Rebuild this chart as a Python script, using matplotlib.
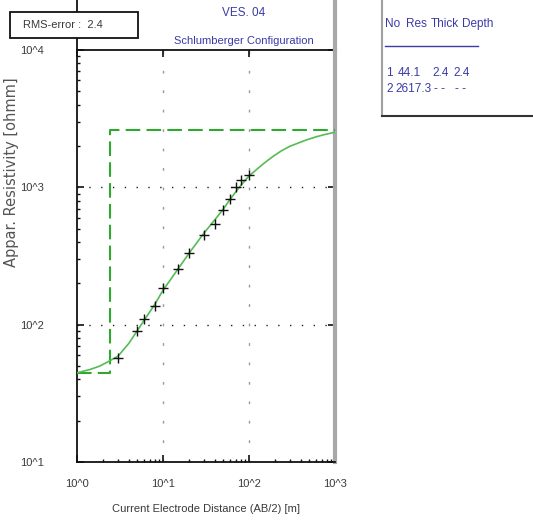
import matplotlib
matplotlib.use("Agg")
import matplotlib.pyplot as plt
from matplotlib.lines import Line2D
from matplotlib.patches import Rectangle

# Sounding VES 04 - field data (AB/2 in m, apparent resistivity in ohm-m)
ab2_obs = [3, 5, 6, 8, 10, 15, 20, 30, 40, 50, 60, 70, 80, 100]
rho_obs = [57.4, 90.5, 110, 137, 184, 254, 330, 452, 540, 679, 822, 1000, 1136, 1225]

# Calculated response of the fitted model
ab2_fit = [1, 1.42, 1.85, 2.37, 3, 4, 5, 6, 8, 10, 15, 20, 30, 40, 50, 60, 70, 80,
           100, 123, 150, 192, 240, 300, 380, 469, 600, 731, 860, 1000]
rho_fit = [44.6, 47.2, 50, 54.3, 59, 73, 90, 107, 140, 178, 255, 330, 465, 580, 690,
           815, 925, 1030, 1210, 1352, 1500, 1687, 1850, 1992, 2110, 2218, 2330,
           2410, 2465, 2520]

# Layered model
layer_no = [1, 2]
layer_res = [44.1, 2617.3]
layer_thick = [2.4]
layer_depth = [2.4]
rms_error = 2.4

W, H = 533, 522
fig = plt.figure(figsize=(W / 100, H / 100), dpi=100)
fig.patch.set_facecolor("white")

NARROW = ["Liberation Sans Narrow", "Liberation Sans", "DejaVu Sans"]
BLUE = "#3a3aa8"
GREY = "#3a3a3a"


def fx(x):
    return x / W


def fy(y):
    return 1 - y / H


ax_l, ax_r, ax_t, ax_b = 77, 335, 50, 462
ax = fig.add_axes([fx(ax_l), fy(ax_b), (ax_r - ax_l) / W, (ax_b - ax_t) / H])
ax.set_xscale("log")
ax.set_yscale("log")
ax.set_xlim(1, 1000)
ax.set_ylim(10, 10000)

# grid
for v in [100, 1000]:
    ax.axhline(v, color="#222222", lw=1.0, ls=(0, (1.0, 7.5)), zorder=1)
for v in [10, 100]:
    ax.axvline(v, color="#9a9a9a", lw=1.0, ls=(0, (2.0, 12.0)), zorder=1)

# model (step)
depth_end = layer_depth[0]
mx = [1, depth_end, depth_end, 1000]
my = [layer_res[0], layer_res[0], layer_res[1], layer_res[1]]
ax.plot(mx, my, color="#2ea82e", lw=1.5, ls=(0, (7, 3)), zorder=3)

# calculated curve
ax.plot(ab2_fit, rho_fit, color="#55bb55", lw=1.2, zorder=4)

# observed data
ax.plot(ab2_obs, rho_obs, ls="none", marker="+", ms=7, mew=1.0, color="#111111", zorder=5)

# spines
for s in ["left", "bottom", "top"]:
    ax.spines[s].set_color("#111111")
    ax.spines[s].set_linewidth(1.3)
ax.spines["right"].set_color("#a8a8a8")
ax.spines["right"].set_linewidth(3)

ax.tick_params(which="both", direction="in", top=True, right=True, colors="#111111",
               labelcolor=GREY)
ax.tick_params(which="major", length=5, width=1.2)
ax.tick_params(which="minor", length=2.5, width=1.0)
ax.tick_params(axis="x", which="minor", top=False)
ax.tick_params(axis="y", which="minor", right=False)

xt = [1, 10, 100, 1000]
yt = [10, 100, 1000, 10000]
ax.set_xticks(xt)
ax.set_xticklabels(["10^0", "10^1", "10^2", "10^3"], family=NARROW, fontsize=8)
ax.set_yticks(yt)
ax.set_yticklabels(["10^1", "10^2", "10^3", "10^4"], family=NARROW, fontsize=8)
ax.tick_params(axis="x", pad=12)
ax.tick_params(axis="y", pad=24)

ax.set_xlabel("Current Electrode Distance (AB/2) [m]", family=NARROW, fontsize=8,
              color=GREY, labelpad=11)
fig.text(fx(12), fy(172), "Appar. Resistivity [ohmm]", rotation=90, ha="center",
         va="center", fontsize=10.5, color="#555555", family=["DejaVu Sans"])

# frame lines running to the top edge
fig.add_artist(Line2D([fx(ax_l), fx(ax_l)], [fy(ax_t), 1], color="#111111", lw=1.3))
fig.add_artist(Line2D([fx(ax_r), fx(ax_r)], [fy(ax_t), 1], color="#a8a8a8", lw=3))

# title
fig.text(fx(244), fy(13), "VES. 04", ha="center", va="center", color=BLUE,
         family=NARROW, fontsize=8.5)
fig.text(fx(244), fy(41), "Schlumberger Configuration", ha="center", va="center",
         color=BLUE, family=NARROW, fontsize=8)

# RMS box
fig.add_artist(Rectangle((fx(10), fy(38)), (138 - 10) / W, (38 - 12) / H,
                         transform=fig.transFigure, facecolor="white",
                         edgecolor="#111111", lw=1.3, zorder=10))
fig.text(fx(63), fy(25), f"RMS-error :  {rms_error}", ha="center", va="center",
         color=GREY, family=NARROW, fontsize=8, zorder=11)

# layer table
fig.add_artist(Line2D([fx(382), fx(382)], [fy(116), 1], color="#a0a0a0", lw=1.5))
fig.add_artist(Line2D([fx(382), 1], [fy(116), fy(116)], color="#333333", lw=1.5))
fig.add_artist(Line2D([fx(385), fx(478)], [fy(46), fy(46)], color=BLUE, lw=1.0))

tstyle = dict(color=BLUE, family=NARROW, fontsize=8.5, va="center", ha="left")
fig.text(fx(385), fy(24), "No", **tstyle)
fig.text(fx(406), fy(24), "Res", **tstyle)
fig.text(fx(431), fy(24), "Thick", **tstyle)
fig.text(fx(462), fy(24), "Depth", **tstyle)

row_y = [73, 89]
for i, no in enumerate(layer_no):
    fig.text(fx(386), fy(row_y[i]), str(no), **tstyle)
    res_x = 398 if layer_res[i] < 1000 else 395
    fig.text(fx(res_x), fy(row_y[i]), f"{layer_res[i]:.1f}", **tstyle)
    if i < len(layer_thick):
        fig.text(fx(432), fy(row_y[i]), f"{layer_thick[i]}", **tstyle)
        fig.text(fx(453), fy(row_y[i]), f"{layer_depth[i]}", **tstyle)
    else:
        fig.text(fx(434), fy(row_y[i]), "- -", **tstyle)
        fig.text(fx(455), fy(row_y[i]), "- -", **tstyle)

fig.savefig("out.png", dpi=100, facecolor="white")
